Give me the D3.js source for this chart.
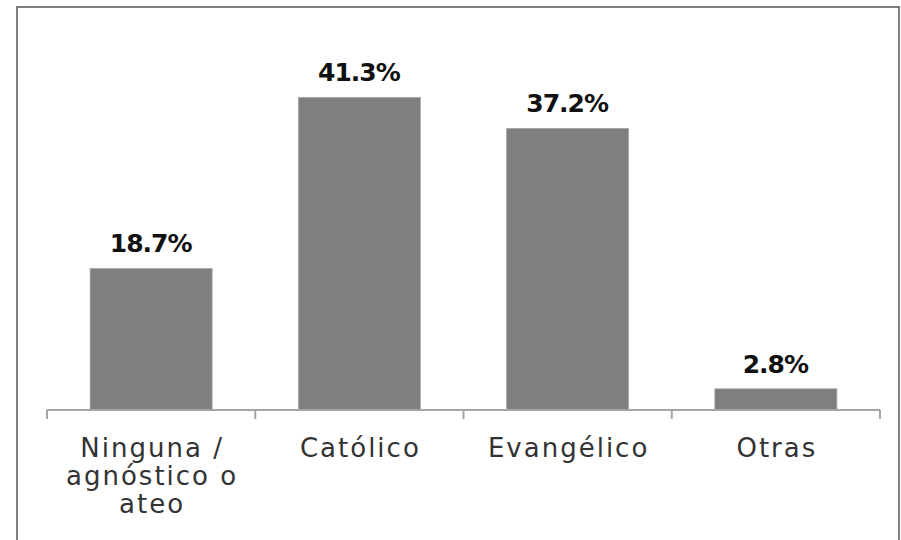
<!DOCTYPE html>
<html>
<head>
<meta charset="utf-8">
<script src="https://cdn.jsdelivr.net/npm/d3@7"></script>
<style>
  html, body { margin: 0; padding: 0; background: #fff; }
  svg { display: block; }
</style>
</head>
<body>
<svg id="chart" width="901" height="540"></svg>
<script>
const categories = ["Ninguna / agnóstico o ateo", "Católico", "Evangélico", "Otras"];
const categoryLines = [["Ninguna /", "agnóstico o", "ateo"], ["Católico"], ["Evangélico"], ["Otras"]];
const values = [18.7, 41.3, 37.2, 2.8];
const valueLabels = ["18.7%", "41.3%", "37.2%", "2.8%"];

const svg = d3.select("#chart");

// frame
svg.append("rect")
  .attr("x", 17).attr("y", 7)
  .attr("width", 882).attr("height", 560)
  .attr("fill", "none").attr("stroke", "#555").attr("stroke-width", 1.5);

const axisY = 410;
const x = d3.scaleBand()
  .domain(categories)
  .range([47, 880])
  .paddingInner(0.414)
  .paddingOuter(0.207);

const y = d3.scaleLinear().domain([0, 50]).range([axisY, axisY - 378.5]);

// bars
svg.selectAll("rect.bar")
  .data(values)
  .join("rect")
  .attr("class", "bar")
  .attr("x", (d, i) => x(categories[i]))
  .attr("y", d => y(d))
  .attr("width", x.bandwidth())
  .attr("height", d => y(0) - y(d))
  .attr("fill", "#807f80")
  .attr("stroke", "#a8a8a8")
  .attr("stroke-width", 0.8);

// axis line and ticks at band boundaries
const step = x.step();
const half = x.paddingInner() * step / 2;
const boundaries = [x.range()[0]].concat(categories.map(c => x(c) + x.bandwidth() + half));
boundaries[boundaries.length - 1] = x.range()[1];

svg.append("line")
  .attr("x1", x.range()[0]).attr("x2", x.range()[1])
  .attr("y1", axisY).attr("y2", axisY)
  .attr("stroke", "#a5a5a5").attr("stroke-width", 2);

svg.selectAll("line.tick")
  .data(boundaries)
  .join("line")
  .attr("class", "tick")
  .attr("x1", d => d).attr("x2", d => d)
  .attr("y1", axisY).attr("y2", axisY + 9)
  .attr("stroke", "#a5a5a5").attr("stroke-width", 2);

// value labels
svg.selectAll("text.val")
  .data(values)
  .join("text")
  .attr("class", "val")
  .attr("x", (d, i) => x(categories[i]) + x.bandwidth() / 2 - 0.5)
  .attr("y", d => y(d) - 16)
  .attr("text-anchor", "middle")
  .attr("font-family", "DejaVu Sans")
  .attr("font-weight", "bold")
  .attr("font-size", 25)
  .attr("letter-spacing", "-1px")
  .attr("fill", "#111")
  .text((d, i) => valueLabels[i]);

// category labels
const catG = svg.selectAll("text.cat")
  .data(categories)
  .join("text")
  .attr("class", "cat")
  .attr("text-anchor", "middle")
  .attr("font-family", "DejaVu Sans")
  .attr("font-size", 26)
  .attr("letter-spacing", "2px")
  .attr("fill", "#333");

catG.each(function(c, i) {
  const cx = x(c) + x.bandwidth() / 2 + 1;
  d3.select(this).selectAll("tspan")
    .data(categoryLines[i])
    .join("tspan")
    .attr("x", cx)
    .attr("y", (d, j) => axisY + 47 + j * 28)
    .text(d => d);
});
</script>
</body>
</html>
